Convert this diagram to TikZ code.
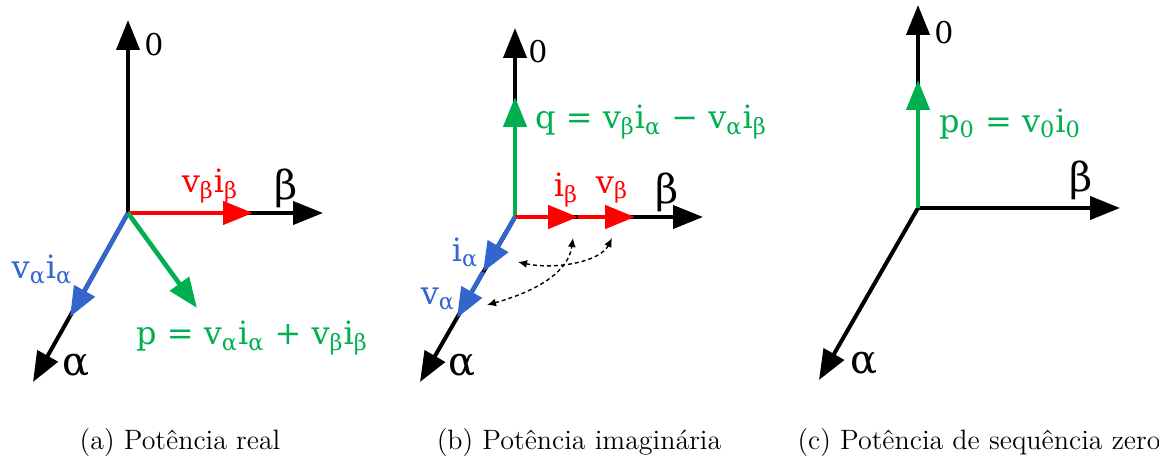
\documentclass[tikz,border=0pt]{standalone}
\usepackage{fontspec}
\usepackage{xcolor}
\usepackage{tikz}
\usetikzlibrary{arrows.meta}
\newfontfamily\vecfont{DejaVu Serif}
\definecolor{pgreen}{RGB}{0,176,80}
\definecolor{pblue}{RGB}{51,102,204}
\definecolor{pred}{RGB}{255,0,0}
\newcommand{\lo}[1]{\textsubscript{#1}}

\tikzset{
  axis/.style={line width=2pt, -{Triangle[length=15pt,width=11.5pt]}},
  phasor/.style={line width=2.3pt, -{Triangle[length=15pt,width=11.5pt]}},
  swapline/.style={line width=0.7pt, dash pattern=on 2pt off 1.5pt,
    {Latex[length=4.5pt,width=4pt]}-{Latex[length=4.5pt,width=4pt]}},
  axlbl/.style={font=\vecfont\fontsize{20}{22}\selectfont, inner sep=0pt},
  zlbl/.style={font=\vecfont\fontsize{15}{17}\selectfont, inner sep=0pt},
  vlbl/.style={font=\vecfont\fontsize{16}{18}\selectfont, inner sep=0pt},
  caption/.style={font=\fontsize{14}{17}\selectfont, inner sep=0pt}
}

\begin{document}
\begin{tikzpicture}[x=0.5pt, y=-0.5pt]
  \useasboundingbox (0,0) rectangle (1159,469);

  % (a) real power
  \coordinate (aO) at (128,213);
  \coordinate (aZ) at (128,20);
  \coordinate (aB) at (323,213);
  \coordinate (aA) at (33,382);
  \coordinate (aP) at (253,213);
  \coordinate (aQ) at (70,317);
  \coordinate (aS) at (197,308);
  \draw[axis] (aO) -- (aZ);
  \draw[axis] (aO) -- (aB);
  \draw[axis] (aO) -- (aA);
  \draw[phasor, pred]   (aO) -- (aP);
  \draw[phasor, pblue]  (aO) -- (aQ);
  \draw[phasor, pgreen] (aO) -- (aS);
  \node[zlbl]  (aZl) at (154,45)  {0};
  \node[axlbl] (aBl) at (286,188) {β};
  \node[axlbl] (aAl) at (76,366)  {α};
  \node[vlbl, pred]   (aPl) at (210,186) {v\lo{β}i\lo{β}};
  \node[vlbl, pblue]  (aQl) at (42,270)  {v\lo{α}i\lo{α}};
  \node[vlbl, pgreen] (aSl) at (252,338) {p = v\lo{α}i\lo{α} + v\lo{β}i\lo{β}};
  \node[caption] (capa) at (180,443) {(a) Potência real};

  % (b) imaginary power
  \coordinate (bO) at (515,217);
  \coordinate (bZ) at (515,28);
  \coordinate (bB) at (703,217);
  \coordinate (bA) at (420,382);
  \coordinate (bQ) at (515,97);
  \coordinate (bIb) at (578,217);
  \coordinate (bVb) at (635,217);
  \coordinate (bIa) at (483,272);
  \coordinate (bVa) at (457,318);
  \draw[axis] (bO) -- (bZ);
  \draw[axis] (bO) -- (bB);
  \draw[axis] (bO) -- (bA);
  \draw[phasor, pgreen] (bO) -- (bQ);
  \draw[phasor, pred]  (bO) -- (bIb);
  \draw[phasor, pred]  (bIb) -- (bVb);
  \draw[phasor, pblue] (bO) -- (bIa);
  \draw[phasor, pblue] (bIa) -- (bVa);
  \node[zlbl]  (bZl) at (538,52)  {0};
  \node[axlbl] (bBl) at (667,192) {β};
  \node[axlbl] (bAl) at (462,366) {α};
  \node[vlbl, pgreen] (bQl) at (651,122) {q = v\lo{β}i\lo{α} − v\lo{α}i\lo{β}};
  \node[vlbl, pred]  (bIbl) at (566,190) {i\lo{β}};
  \node[vlbl, pred]  (bVbl) at (612,190) {v\lo{β}};
  \node[vlbl, pblue] (bIal) at (465,253) {i\lo{α}};
  \node[vlbl, pblue] (bVal) at (438,299) {v\lo{α}};
  \coordinate (s1a) at (518,262);
  \coordinate (s1b) at (612,238);
  \coordinate (s2a) at (487,305);
  \coordinate (s2b) at (573,238);
  \draw[swapline] (s1a) .. controls (555,270) and (600,262) .. (s1b);
  \draw[swapline] (s2a) .. controls (530,293) and (568,275) .. (s2b);
  \node[caption] (capb) at (579,443) {(b) Potência imaginária};

  % (c) zero sequence power
  \coordinate (cO) at (918,208);
  \coordinate (cZ) at (918,5);
  \coordinate (cB) at (1120,208);
  \coordinate (cA) at (819,380);
  \coordinate (cP) at (918,80);
  \draw[axis] (cO) -- (cZ);
  \draw[axis] (cO) -- (cB);
  \draw[axis] (cO) -- (cA);
  \draw[phasor, pgreen] (cO) -- (cP);
  \node[zlbl]  (cZl) at (944,33)   {0};
  \node[axlbl] (cBl) at (1081,180) {β};
  \node[axlbl] (cAl) at (864,363)  {α};
  \node[vlbl, pgreen] (cPl) at (1010,124) {p\lo{0} = v\lo{0}i\lo{0}};
  \node[caption] (capc) at (979,443) {(c) Potência de sequência zero};
\end{tikzpicture}
\end{document}
